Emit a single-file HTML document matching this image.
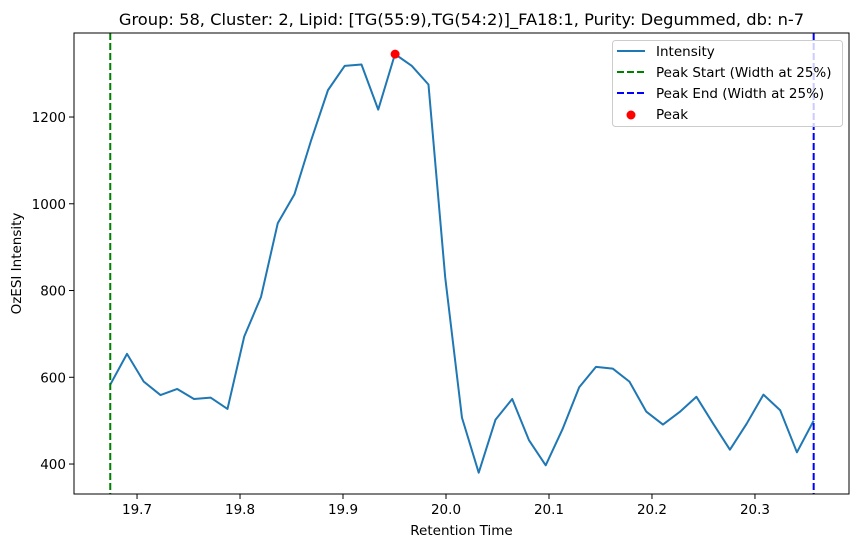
<!DOCTYPE html>
<html><head><meta charset="utf-8"><style>
body{margin:0;background:#fff;font-family:"DejaVu Sans","Liberation Sans",sans-serif;}
svg text{font-family:"DejaVu Sans","Liberation Sans",sans-serif;fill:#000;}
</style></head><body>
<svg id="chart" width="859" height="547" xmlns="http://www.w3.org/2000/svg">
<rect width="859" height="547" fill="#fff"/>
<g id="plot"></g>
</svg>
<script>
const intensity=[583,654,590,559,573,550,553,527,694,785,955,1022,1147,1262,1318,1321,1217,1345,1318,1275,830,507,380,502,550,455,397,480,577,624,620,590,521,491,520,555,493,433,493,560,524,427,500];
const tStart=19.674, tEnd=20.357;
const peakStart=19.674, peakEnd=20.357;
const peakTime=19.9506, peakValue=1345;
const xTicks=[19.7,19.8,19.9,20.0,20.1,20.2,20.3];
const xTickLabels=["19.7","19.8","19.9","20.0","20.1","20.2","20.3"];
const yTicks=[400,600,800,1000,1200];
const yTickLabels=["400","600","800","1000","1200"];

const L=74,R=849,T=33,B=494;
const xMin=19.6388,xMax=20.3913,yMin=330.9,yMax=1393.7;
const X=v=>L+(v-xMin)/(xMax-xMin)*(R-L);
const Y=v=>B-(v-yMin)/(yMax-yMin)*(B-T);
const NS="http://www.w3.org/2000/svg";
const g=document.getElementById('plot');
function mk(tag,attrs,parent){const e=document.createElementNS(NS,tag);for(const k in attrs)e.setAttribute(k,attrs[k]);(parent||g).appendChild(e);return e;}

const times=intensity.map((v,i)=>tStart+i*(tEnd-tStart)/(intensity.length-1));
const line=mk('polyline',{points:times.map((t,i)=>X(t)+','+Y(intensity[i])).join(' '),fill:'none',stroke:'#1f77b4','stroke-width':2,'stroke-linejoin':'round'});


const ps=mk('line',{x1:X(peakStart),x2:X(peakStart),y1:T,y2:B,stroke:'green','stroke-width':2,'stroke-dasharray':'7,3'});


const pe=mk('line',{x1:X(peakEnd),x2:X(peakEnd),y1:T,y2:B,stroke:'blue','stroke-width':2,'stroke-dasharray':'7,3'});


const pk=mk('circle',{cx:X(peakTime),cy:Y(peakValue),r:4.5,fill:'red'});



const frame=mk('rect',{x:L,y:T,width:R-L,height:B-T,fill:'none',stroke:'#000','stroke-width':1});



xTicks.forEach((v,i)=>{
 mk('line',{x1:X(v),x2:X(v),y1:B,y2:B+5,stroke:'#000'});
 const t=mk('text',{x:X(v),y:B+20,'text-anchor':'middle','font-size':13.5});
 t.textContent=xTickLabels[i];
 
 
});
yTicks.forEach((v,i)=>{
 mk('line',{x1:L-5,x2:L,y1:Y(v),y2:Y(v),stroke:'#000'});
 const t=mk('text',{x:L-8,y:Y(v)+5,'text-anchor':'end','font-size':13.5});
 t.textContent=yTickLabels[i];
 
 
});
const xt=mk('text',{x:(L+R)/2,y:535,'text-anchor':'middle','font-size':13.5});
xt.textContent='Retention Time';


const yt=mk('text',{x:21,y:(T+B)/2,'text-anchor':'middle','font-size':13.5,transform:'rotate(-90 21 '+(T+B)/2+')'});
yt.textContent='OzESI Intensity';


const ti=mk('text',{x:(L+R)/2,y:25,'text-anchor':'middle','font-size':16.3});
ti.textContent='Group: 58, Cluster: 2, Lipid: [TG(55:9),TG(54:2)]_FA18:1, Purity: Degummed, db: n-7';



// legend
const lg=mk('g',{});


mk('rect',{x:612.5,y:40.5,width:230,height:86,rx:3,fill:'rgba(255,255,255,0.8)',stroke:'#ccc'},lg);
const entries=[['Intensity','#1f77b4','solid'],['Peak Start (Width at 25%)','green','dash'],['Peak End (Width at 25%)','blue','dash'],['Peak','red','dot']];
entries.forEach((e,i)=>{
 const y=51+i*21;
 const eg=mk('g',{},lg);
 
 
 if(e[2]==='dot') mk('circle',{cx:631,cy:y+1,r:4.5,fill:e[1]},eg);
 else mk('line',{x1:617,x2:645,y1:y,y2:y,stroke:e[1],'stroke-width':2,'stroke-dasharray':e[2]==='dash'?'7,3':'none'},eg);
 const t=mk('text',{x:656,y:y+5,'font-size':13.5},eg);
 t.textContent=e[0];
});
</script>
</body></html>
